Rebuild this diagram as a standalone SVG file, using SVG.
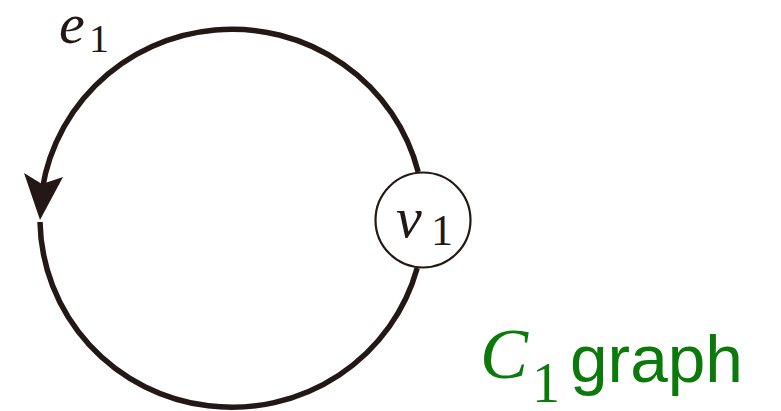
<svg xmlns="http://www.w3.org/2000/svg" width="781" height="411" viewBox="0 0 781 411">
<style>
.edge{fill:none;stroke:#231815;stroke-width:5.5}
.head{fill:#231815;stroke:none}
.node{fill:#fff;stroke:#231815;stroke-width:2.2}
.math{font-family:"Liberation Serif","DejaVu Serif",serif;fill:#231815}
.it{font-style:italic}
.green{fill:#0b7a0b}
.sans{font-family:"Liberation Sans",Arial,sans-serif}
</style>
<rect width="781" height="411" fill="#fff"/>
<g id="connectors">
<g id="e1">
<path class="edge" d="M 418.2 172 A 192 189 0 0 0 40.5 205"/>
<path class="edge" d="M 40 222 A 192 189 0 0 0 417.2 268"/>
<path class="head" d="M 40 220 L 24 173 L 42 184 L 63 177 Z"/>
</g>
</g>
<g id="e1-label">
<text class="math it" x="59" y="43" font-size="58">e</text>
<text class="math" x="89" y="52" font-size="40">1</text>
</g>
<g id="v1">
<circle class="node" cx="423" cy="220" r="47.5"/>
<text class="math it" x="396" y="237" font-size="58">v</text>
<text class="math" x="431" y="245" font-size="44">1</text>
</g>
<g id="title">
<text class="math it green" x="480" y="378" font-size="72">C</text>
<text class="math green" x="532" y="402" font-size="56">1</text>
<text class="sans green" x="570" y="382" font-size="66" textLength="173" lengthAdjust="spacingAndGlyphs">graph</text>
</g>
</svg>
